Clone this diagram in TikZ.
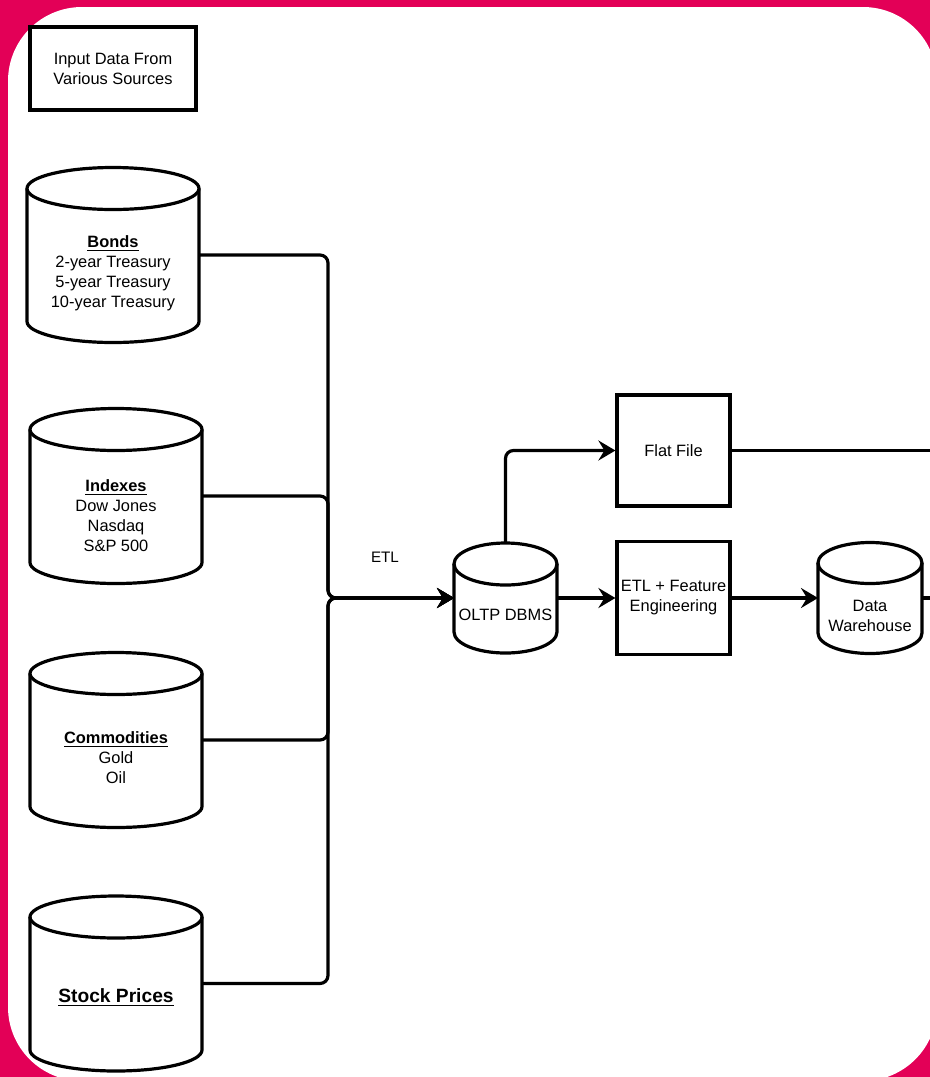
\documentclass[tikz,border=0pt]{standalone}
\usepackage{fontspec}
\setmainfont{Liberation Sans}
\usetikzlibrary{arrows.meta,positioning}
\definecolor{framepink}{RGB}{227,0,87}

% cylinder outline round a named node: name, half width, cap radius
\newcommand{\drum}[3]{%
    \draw ([yshift=-#3]#1.north west) -- ([yshift=#3]#1.south west)
        arc[start angle=180, end angle=360, x radius=#2, y radius=#3]
        -- ([yshift=-#3]#1.north east);
    \draw ([yshift=-#3]#1.north) ellipse [x radius=#2, y radius=#3];}

\begin{document}
\begin{tikzpicture}[x=0.5pt, y=-0.5pt, line width=1.6pt,
        font=\fontsize{8.2}{10}\selectfont,
        box/.style={rectangle, draw, minimum width=56.5pt, minimum height=55.5pt, align=center, inner sep=0pt},
        store/.style={rectangle, minimum width=86pt, minimum height=87.5pt, inner sep=0pt, outer sep=0pt},
        caption/.style={align=center, inner sep=0pt},
        link/.style={rounded corners=4pt},
        arrow/.style={link, -{Stealth[length=8.5pt,width=10pt,inset=3pt]}}]
        % frame
        \clip (0,0) rectangle (930,1077);
        \fill[framepink] (0,0) rectangle (930,1077);
        \fill[white, rounded corners=37pt] (8,7) rectangle (937,1081);

        % sources
        \node (input) [box, minimum width=83pt, minimum height=41.5pt] at (113,68.5) {Input Data From\\Various Sources};
        \node (bonds) [store] at (113,255) {};
        \node (indexes) [store] at (116,496) {};
        \node (commodities) [store] at (116,740) {};
        \node (stocks) [store] at (116,983.5) {};
        \drum{bonds}{43pt}{10.5pt}
        \drum{indexes}{43pt}{10.5pt}
        \drum{commodities}{43pt}{10.5pt}
        \drum{stocks}{43pt}{10.5pt}
        \node (bondstext) [caption] at (113,273.5) {\underline{\textbf{Bonds}}\\2-year Treasury\\5-year Treasury\\10-year Treasury};
        \node (indexestext) [caption] at (116,515.5) {\underline{\textbf{Indexes}}\\Dow Jones\\Nasdaq\\S\&P 500};
        \node (commoditiestext) [caption] at (116,757.5) {\underline{\textbf{Commodities}}\\Gold\\Oil};
        \node (stockstext) [caption, font=\fontsize{9.6}{11}\selectfont] at (116,998) {\underline{\textbf{Stock Prices}}};

        % pipeline
        \node (oltp) [store, minimum width=51.5pt, minimum height=55pt] at (505.5,598) {};
        \node (dwh) [store, minimum width=52pt, minimum height=55.5pt] at (870,598) {};
        \drum{oltp}{25.75pt}{10.5pt}
        \drum{dwh}{26pt}{10.25pt}
        \node (oltptext) [caption] at (505.5,615) {OLTP DBMS};
        \node (dwhtext) [caption] at (870,615.5) {Data\\Warehouse};
        \node (flat) [box] at (673.5,450.5) {Flat File};
        \node (etlfe) [box, minimum height=56.5pt] at (673.5,598) {ETL + Feature\\Engineering};
        \node (etl) [caption, font=\fontsize{7.6}{9}\selectfont] at (385,557) {ETL};
        \coordinate (bus) at (328,598);
        \coordinate (flatout) at (945,450.5);
        \coordinate (dwhout) at (945,598);

        \draw[arrow] (bonds.east) -| (bus) -- (oltp.west);
        \draw[arrow] (indexes.east) -| (bus) -- (oltp.west);
        \draw[arrow] (commodities.east) -| (bus) -- (oltp.west);
        \draw[arrow] (stocks.east) -| (bus) -- (oltp.west);
        \draw[arrow] (oltp.north) |- (flat.west);
        \draw[arrow] (oltp.east) -- (etlfe.west);
        \draw[arrow] (etlfe.east) -- (dwh.west);
        \draw[link] (flat.east) -- (flatout);
        \draw[link] (dwh.east) -- (dwhout);
    \end{tikzpicture}
\end{document}
